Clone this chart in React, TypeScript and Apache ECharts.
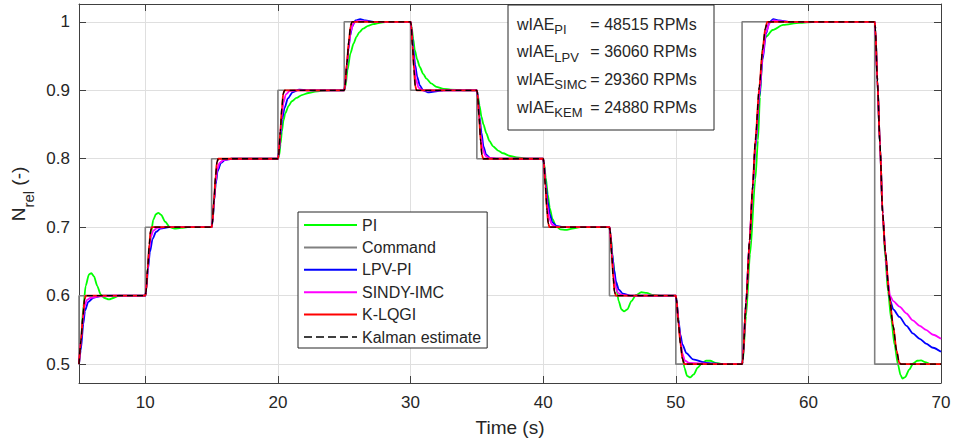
import React, { useEffect, useRef } from "react";
import * as echarts from "echarts";

const FONT = '"Liberation Sans", Arial, Helvetica, sans-serif';
const TXT = "#262626";
const AXC = "#404040";

// Command (step changes)
const commandTimes = [5, 5, 10, 15, 20, 25, 30, 35, 40, 45, 50, 55, 65, 70];
const commandValues = [0.5, 0.6, 0.7, 0.8, 0.9, 1.0, 0.9, 0.8, 0.7, 0.6, 0.5, 1.0, 0.5, 0.5];

// PI (green)
const piData: [number, number][] = [
  [5, 0.5], [5.15, 0.535], [5.33, 0.584], [5.5, 0.614], [5.75, 0.631], [5.93, 0.633], [6.13, 0.628], [6.38, 0.614], [6.63, 0.602], [6.88, 0.597], [7.26, 0.5945], [7.64, 0.597], [8.0, 0.6], [9, 0.6],
  [10, 0.6], [10.05, 0.605], [10.18, 0.64], [10.3, 0.668], [10.45, 0.694], [10.6, 0.711], [10.8, 0.719], [10.98, 0.721], [11.2, 0.718], [11.5, 0.708], [11.85, 0.7], [12.2, 0.698], [12.7, 0.699], [13.2, 0.7],
  [15, 0.7], [15.08, 0.711], [15.2, 0.741], [15.3, 0.763], [15.45, 0.783], [15.7, 0.795], [16.0, 0.799], [16.5, 0.8],
  [20, 0.8], [20.1, 0.805], [20.2, 0.822], [20.3, 0.84], [20.42, 0.856], [20.55, 0.866], [20.8, 0.877], [21.05, 0.884], [21.4, 0.889], [21.8, 0.893], [22.3, 0.896], [22.8, 0.898], [23.8, 0.9],
  [25, 0.9], [25.1, 0.906], [25.25, 0.93], [25.47, 0.954], [25.7, 0.968], [25.92, 0.978], [26.15, 0.985], [26.42, 0.99], [26.8, 0.994], [27.17, 0.9966], [27.8, 0.999], [28.4, 1.0],
  [30, 1.0], [30.08, 0.993], [30.2, 0.975], [30.32, 0.959], [30.5, 0.945], [30.7, 0.934], [30.95, 0.924], [31.2, 0.917], [31.55, 0.91], [31.95, 0.905], [32.5, 0.902], [33, 0.901], [34, 0.9],
  [35, 0.9], [35.08, 0.892], [35.2, 0.878], [35.35, 0.861], [35.5, 0.85], [35.72, 0.837], [35.95, 0.826], [36.22, 0.818], [36.6, 0.812], [36.98, 0.808], [37.5, 0.804], [38, 0.802], [39, 0.8],
  [40, 0.8], [40.08, 0.792], [40.2, 0.772], [40.35, 0.748], [40.5, 0.728], [40.7, 0.712], [40.95, 0.702], [41.3, 0.697], [41.7, 0.696], [42.2, 0.698], [42.8, 0.7],
  [45, 0.7], [45.1, 0.685], [45.25, 0.655], [45.45, 0.62], [45.7, 0.592], [45.9, 0.58], [46.1, 0.577], [46.35, 0.58], [46.65, 0.592], [47.0, 0.601], [47.4, 0.605], [47.8, 0.604], [48.3, 0.601], [49, 0.6],
  [50, 0.6], [50.1, 0.585], [50.25, 0.555], [50.45, 0.52], [50.65, 0.495], [50.85, 0.483], [51.1, 0.4806], [51.35, 0.485], [51.65, 0.495], [52.0, 0.502], [52.3, 0.505], [52.6, 0.505], [53.0, 0.502], [53.5, 0.5],
  [55, 0.5], [55.05, 0.503], [55.3, 0.57], [55.6, 0.66], [56.0, 0.77], [56.2, 0.827], [56.35, 0.89], [56.55, 0.9635], [56.8, 0.978], [57.3, 0.988], [58.1, 0.9955], [59.3, 0.9985], [60.5, 1.0],
  [65, 1.0], [65.05, 0.99], [65.2, 0.915], [65.4, 0.82], [65.6, 0.72], [65.8, 0.655], [66.0, 0.607], [66.25, 0.565], [66.5, 0.528], [66.75, 0.5], [66.95, 0.484], [67.1, 0.479], [67.3, 0.481], [67.6, 0.492], [67.9, 0.501], [68.2, 0.505], [68.5, 0.5055], [68.8, 0.503], [69.2, 0.5], [70, 0.5],
];

// LPV-PI (blue)
const lpvData: [number, number][] = [
  [5, 0.5], [5.13, 0.52], [5.33, 0.559], [5.45, 0.578], [5.7, 0.591], [6.08, 0.597], [6.8, 0.6],
  [10, 0.6], [10.08, 0.61], [10.2, 0.638], [10.35, 0.664], [10.55, 0.683], [10.8, 0.693], [11.15, 0.698], [11.8, 0.7],
  [15, 0.7], [15.08, 0.71], [15.2, 0.74], [15.3, 0.762], [15.45, 0.782], [15.7, 0.794], [16.0, 0.798], [16.5, 0.8],
  [20, 0.8], [20.08, 0.81], [20.2, 0.835], [20.32, 0.858], [20.5, 0.874], [20.75, 0.888], [21.1, 0.897], [21.6, 0.901], [22.2, 0.9],
  [25, 0.9], [25.08, 0.91], [25.2, 0.935], [25.32, 0.96], [25.45, 0.98], [25.6, 0.993], [25.85, 1.002], [26.2, 1.004], [26.6, 1.002], [27.2, 1.0],
  [30, 1.0], [30.08, 0.99], [30.2, 0.962], [30.35, 0.937], [30.5, 0.92], [30.7, 0.907], [30.95, 0.9], [31.3, 0.897], [31.8, 0.898], [32.5, 0.9],
  [35, 0.9], [35.08, 0.89], [35.2, 0.862], [35.35, 0.838], [35.5, 0.818], [35.7, 0.806], [36, 0.801], [36.6, 0.8],
  [40, 0.8], [40.08, 0.79], [40.2, 0.762], [40.35, 0.737], [40.5, 0.719], [40.7, 0.707], [41, 0.702], [41.6, 0.7],
  [45, 0.7], [45.08, 0.69], [45.2, 0.662], [45.35, 0.638], [45.5, 0.62], [45.7, 0.609], [46, 0.603], [46.6, 0.6],
  [50, 0.6], [50.08, 0.59], [50.2, 0.565], [50.35, 0.543], [50.5, 0.529], [50.8, 0.516], [51.3, 0.507], [52.3, 0.502], [53.5, 0.5],
  [55, 0.5], [55.05, 0.505], [55.3, 0.59], [55.57, 0.681], [55.8, 0.755], [56.0, 0.815], [56.3, 0.89], [56.55, 0.945], [56.8, 0.982], [57.05, 0.999], [57.35, 1.004], [57.8, 1.002], [58.5, 1.0],
  [65, 1.0], [65.05, 0.99], [65.2, 0.915], [65.4, 0.82], [65.6, 0.72], [65.8, 0.665], [66.0, 0.618], [66.15, 0.594], [66.4, 0.58], [66.87, 0.569], [67.4, 0.556], [67.87, 0.545], [68.4, 0.537], [68.87, 0.53], [69.4, 0.524], [70, 0.518],
];

// SINDY-IMC (magenta)
const sindyData: [number, number][] = [
  [5, 0.5], [5.15, 0.535], [5.3, 0.567], [5.42, 0.585], [5.6, 0.594], [5.9, 0.597], [6.5, 0.599], [7.5, 0.6],
  [10, 0.6], [10.05, 0.605], [10.18, 0.638], [10.3, 0.668], [10.42, 0.686], [10.6, 0.695], [10.9, 0.699], [11.5, 0.7],
  [15, 0.7], [15.05, 0.705], [15.18, 0.738], [15.3, 0.766], [15.42, 0.784], [15.6, 0.794], [15.9, 0.798], [16.5, 0.8],
  [20, 0.8], [20.05, 0.805], [20.18, 0.836], [20.3, 0.863], [20.42, 0.882], [20.6, 0.894], [20.9, 0.899], [21.5, 0.9],
  [25, 0.9], [25.05, 0.905], [25.2, 0.938], [25.35, 0.967], [25.5, 0.987], [25.7, 0.998], [25.95, 1.001], [26.4, 1.001], [27, 1.0],
  [30, 1.0], [30.05, 0.995], [30.15, 0.966], [30.28, 0.936], [30.42, 0.915], [30.6, 0.904], [30.9, 0.9],
  [35, 0.9], [35.05, 0.895], [35.17, 0.862], [35.3, 0.833], [35.45, 0.814], [35.65, 0.804], [35.95, 0.801], [36.5, 0.8],
  [40, 0.8], [40.05, 0.795], [40.17, 0.762], [40.3, 0.733], [40.45, 0.714], [40.65, 0.704], [40.95, 0.701], [41.5, 0.7],
  [45, 0.7], [45.05, 0.695], [45.17, 0.662], [45.3, 0.633], [45.45, 0.614], [45.65, 0.604], [45.95, 0.601], [46.5, 0.6],
  [50, 0.6], [50.05, 0.595], [50.2, 0.562], [50.35, 0.535], [50.5, 0.515], [50.7, 0.505], [51, 0.502], [52, 0.501], [53, 0.5],
  [55, 0.5], [55.05, 0.505], [55.3, 0.59], [55.57, 0.681], [55.8, 0.758], [56.0, 0.82], [56.3, 0.895], [56.55, 0.95], [56.8, 0.985], [57.1, 0.999], [57.4, 1.002], [57.8, 1.001], [58.5, 1.0],
  [65, 1.0], [65.05, 0.99], [65.2, 0.915], [65.4, 0.82], [65.6, 0.72], [65.8, 0.665], [66.0, 0.622], [66.15, 0.6], [66.4, 0.592], [66.87, 0.584], [67.4, 0.574], [67.87, 0.564], [68.4, 0.556], [68.87, 0.55], [69.4, 0.543], [70, 0.537],
];

// K-LQGI (red)
const klqgiData: [number, number][] = [
  [5, 0.5], [5.15, 0.535], [5.3, 0.57], [5.42, 0.595], [5.52, 0.6],
  [10, 0.6], [10.05, 0.605], [10.18, 0.64], [10.3, 0.675], [10.4, 0.695], [10.5, 0.7],
  [15, 0.7], [15.05, 0.705], [15.18, 0.74], [15.3, 0.775], [15.4, 0.795], [15.5, 0.8],
  [20, 0.8], [20.05, 0.805], [20.18, 0.84], [20.3, 0.875], [20.4, 0.895], [20.5, 0.9],
  [25, 0.9], [25.05, 0.905], [25.2, 0.94], [25.35, 0.972], [25.47, 0.993], [25.58, 1.0],
  [30, 1.0], [30.05, 0.995], [30.15, 0.965], [30.26, 0.93], [30.35, 0.907], [30.45, 0.9],
  [35, 0.9], [35.05, 0.895], [35.17, 0.86], [35.29, 0.825], [35.38, 0.806], [35.48, 0.8],
  [40, 0.8], [40.05, 0.795], [40.17, 0.76], [40.29, 0.725], [40.38, 0.706], [40.48, 0.7],
  [45, 0.7], [45.05, 0.695], [45.17, 0.66], [45.29, 0.625], [45.38, 0.606], [45.48, 0.6],
  [50, 0.6], [50.05, 0.595], [50.2, 0.56], [50.35, 0.53], [50.5, 0.508], [50.65, 0.5],
  [55, 0.5], [55.05, 0.505], [55.3, 0.59], [55.57, 0.681], [55.8, 0.76], [56.0, 0.827], [56.3, 0.905], [56.55, 0.96], [56.75, 0.99], [56.9, 1.0],
  [65, 1.0], [65.05, 0.99], [65.2, 0.915], [65.4, 0.82], [65.6, 0.72], [65.8, 0.665], [66.1, 0.6], [66.4, 0.555], [66.65, 0.52], [66.85, 0.502], [67, 0.5],
  [70, 0.5],
];

// Kalman estimate (black dashed)
const kalmanData: [number, number][] = [
  [5, 0.5], [5.15, 0.535], [5.3, 0.57], [5.42, 0.595], [5.52, 0.6],
  [10, 0.6], [10.05, 0.605], [10.18, 0.64], [10.3, 0.675], [10.4, 0.695], [10.5, 0.7],
  [15, 0.7], [15.05, 0.705], [15.18, 0.74], [15.3, 0.775], [15.4, 0.795], [15.5, 0.8],
  [20, 0.8], [20.05, 0.805], [20.18, 0.84], [20.3, 0.875], [20.4, 0.895], [20.5, 0.9],
  [25, 0.9], [25.05, 0.905], [25.2, 0.94], [25.35, 0.972], [25.47, 0.993], [25.58, 1.0],
  [30, 1.0], [30.05, 0.995], [30.15, 0.965], [30.26, 0.93], [30.35, 0.907], [30.45, 0.9],
  [35, 0.9], [35.05, 0.895], [35.17, 0.86], [35.29, 0.825], [35.38, 0.806], [35.48, 0.8],
  [40, 0.8], [40.05, 0.795], [40.17, 0.76], [40.29, 0.725], [40.38, 0.706], [40.48, 0.7],
  [45, 0.7], [45.05, 0.695], [45.17, 0.66], [45.29, 0.625], [45.38, 0.606], [45.48, 0.6],
  [50, 0.6], [50.05, 0.595], [50.2, 0.56], [50.35, 0.53], [50.5, 0.508], [50.65, 0.5],
  [55, 0.5], [55.05, 0.505], [55.3, 0.59], [55.57, 0.681], [55.8, 0.76], [56.0, 0.827], [56.3, 0.905], [56.55, 0.96], [56.75, 0.99], [56.9, 1.0],
  [65, 1.0], [65.05, 0.99], [65.2, 0.915], [65.4, 0.82], [65.6, 0.72], [65.8, 0.665], [66.1, 0.6], [66.4, 0.555], [66.65, 0.52], [66.85, 0.502], [67, 0.5],
  [70, 0.5],
];

const seriesNames = ["PI", "Command", "LPV-PI", "SINDY-IMC", "K-LQGI", "Kalman estimate"];
const seriesColors = ["#00ff00", "#808080", "#0000ff", "#ff00ff", "#ff0000", "#000000"];

const wiaeSubs = ["PI", "LPV", "SIMC", "KEM"];
const wiaeValues = [48515, 36060, 29360, 24880];

const fmtX = (v: number) => (Math.abs(v % 10) < 1e-6 ? String(v) : "");
const fmtY = (v: number) => {
  const r = Math.round(v * 10) / 10;
  if (Math.abs(v - r) > 1e-6) return "";
  return r === 1 ? "1" : r.toFixed(1);
};

export default function App() {
  const ref = useRef<HTMLDivElement>(null);

  useEffect(() => {
    if (!ref.current) return;
    const chart = echarts.init(ref.current, null, { renderer: "svg" });

    const commandData = commandTimes.map((t, i) => [t, commandValues[i]]);
    const dataSets = [piData, commandData, lpvData, sindyData, klqgiData, kalmanData];

    const series: any[] = seriesNames.map((name, i) => {
      const isCmd = name === "Command";
      const isKal = name === "Kalman estimate";
      return {
        name,
        type: "line",
        data: dataSets[i],
        color: seriesColors[i],
        showSymbol: false,
        symbol: "none",
        step: isCmd ? "end" : false,
        smooth: isCmd ? false : 0.25,
        smoothMonotone: "x",
        lineStyle: {
          color: seriesColors[i],
          width: isKal ? 1.3 : isCmd ? 1.6 : 1.8,
          type: isKal ? [6, 4] : "solid",
        },
        emphasis: { disabled: true },
        xAxisIndex: 0,
        yAxisIndex: 0,
        z: 2 + i,
      };
    });

    const legendIcons: Record<string, string> = {
      "Kalman estimate": "path://M0,0h8v1.6h-8zM12,0h8v1.6h-8zM24,0h8v1.6h-8zM36,0h8v1.6h-8zM48,0h5v1.6h-5z",
    };

    const option: any = {
      animation: false,
      backgroundColor: "#ffffff",
      textStyle: { fontFamily: FONT },
      grid: { left: 79, right: 14, top: 4, bottom: 63, containLabel: false },
      xAxis: [
        {
          type: "value",
          min: 5,
          max: 70,
          position: "bottom",
          axisLine: { show: true, lineStyle: { color: AXC, width: 1 } },
          axisTick: { show: true, inside: true, length: 7, lineStyle: { color: AXC } },
          axisLabel: { color: TXT, fontSize: 17, fontFamily: FONT, margin: 11, formatter: fmtX },
          splitLine: { show: true, lineStyle: { color: "#dfdfdf", width: 1 } },
          name: "Time (s)",
          nameLocation: "middle",
          nameGap: 35,
          nameTextStyle: { color: TXT, fontSize: 19, fontFamily: FONT },
        },
        {
          type: "value",
          min: 5,
          max: 70,
          position: "top",
          axisLine: { show: true, lineStyle: { color: AXC, width: 1 } },
          axisTick: { show: true, inside: true, length: 7, lineStyle: { color: AXC } },
          axisLabel: { show: false },
          splitLine: { show: false },
        },
      ],
      yAxis: [
        {
          type: "value",
          min: 0.4725,
          max: 1.026,
          position: "left",
          axisLine: { show: true, lineStyle: { color: AXC, width: 1 } },
          axisTick: { show: true, inside: true, length: 7, lineStyle: { color: AXC } },
          axisLabel: { color: TXT, fontSize: 17, fontFamily: FONT, margin: 9, formatter: fmtY },
          splitLine: { show: true, lineStyle: { color: "#dfdfdf", width: 1 } },
        },
        {
          type: "value",
          min: 0.4725,
          max: 1.026,
          position: "right",
          axisLine: { show: true, lineStyle: { color: AXC, width: 1 } },
          axisTick: { show: true, inside: true, length: 7, lineStyle: { color: AXC } },
          axisLabel: { show: false },
          splitLine: { show: false },
        },
      ],
      legend: {
        show: true,
        orient: "vertical",
        left: 298,
        top: 212,
        padding: [5, 6, 3, 6],
        itemGap: 6.4,
        itemWidth: 53,
        itemHeight: 2,
        selectedMode: false,
        backgroundColor: "#ffffff",
        borderColor: TXT,
        borderWidth: 1,
        borderRadius: 0,
        itemStyle: { borderWidth: 0 },
        textStyle: { color: TXT, fontSize: 16, fontFamily: FONT },
        data: seriesNames.map((n) => ({ name: n, icon: legendIcons[n] || "rect" })),
      },
      graphic: [
        {
          type: "rect",
          z: 100,
          shape: { x: 508, y: 5, width: 206, height: 125 },
          style: { fill: "#ffffff", stroke: TXT, lineWidth: 1 },
        },
        ...wiaeSubs.map((s, i) => ({
          type: "text",
          z: 101,
          x: 517,
          y: 24 + i * 27.7,
          style: {
            text: `{m|wIAE}{s|${s}}{m|= ${wiaeValues[i]} RPMs}`,
            align: "left",
            textAlign: "left",
            verticalAlign: "middle",
            textVerticalAlign: "middle",
            rich: {
              m: { fontSize: 16, fontFamily: FONT, lineHeight: 24, fill: TXT },
              s: { fontSize: 13, fontFamily: FONT, lineHeight: 13, verticalAlign: "bottom", width: 36, fill: TXT },
            },
          },
        })),
        {
          type: "text",
          z: 101,
          x: 18.5,
          y: 194,
          rotation: Math.PI / 2,
          style: {
            text: "{a|N}{b|rel}{a| (-)}",
            align: "center",
            textAlign: "center",
            verticalAlign: "middle",
            textVerticalAlign: "middle",
            rich: {
              a: { fontSize: 19, fontFamily: FONT, lineHeight: 34, fill: TXT },
              b: { fontSize: 15, fontFamily: FONT, lineHeight: 15, verticalAlign: "bottom", fill: TXT },
            },
          },
        },
      ],
      series,
    };

    chart.setOption(option);
    return () => chart.dispose();
  }, []);

  return (
    <div
      ref={ref}
      style={{ position: "absolute", left: 0, top: 0, width: 955, height: 446, background: "#fff" }}
    />
  );
}
